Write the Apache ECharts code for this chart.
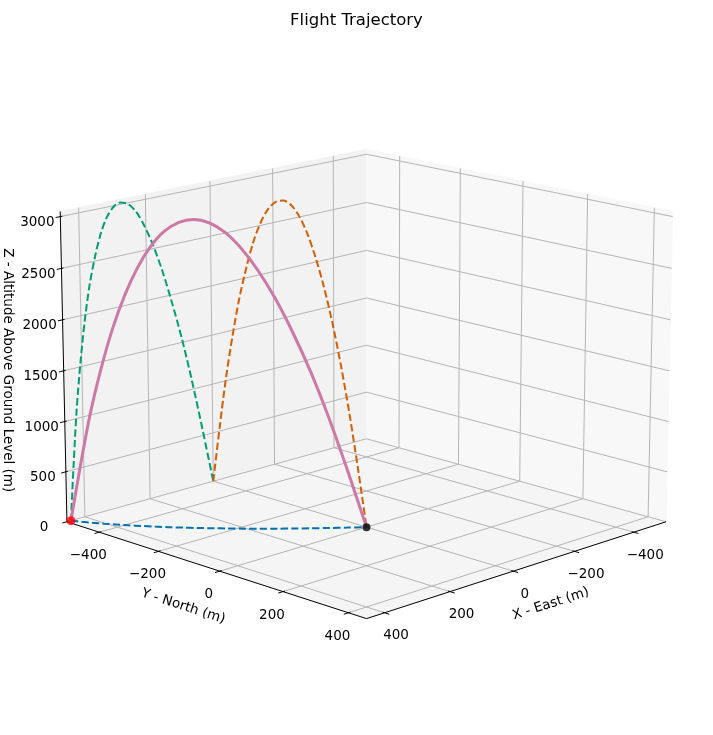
<!DOCTYPE html>
<html>
<head>
<meta charset="utf-8">
<script src="https://cdn.jsdelivr.net/npm/echarts@6/dist/echarts.min.js"></script>
<style>
  html, body { margin: 0; padding: 0; background: #fff; }
  #main { width: 713px; height: 735px; }
</style>
</head>
<body>
<div id="main"></div>
<script>
var myChart = echarts.init(document.getElementById('main'));

// trajectory samples (metres)
var east = [442, 430, 418, 404, 389, 373, 355, 337, 318, 297, 276, 253, 229, 205, 179, 152, 124, 94, 64, 33, 0];
var north = [-512, -488, -465, -441, -417, -392, -368, -343, -318, -292, -267, -241, -215, -189, -163, -136, -109, -82, -55, -28, 0];
var altitude = [0, 573, 1087, 1539, 1932, 2264, 2535, 2746, 2897, 2988, 3018, 2988, 2897, 2746, 2535, 2264, 1932, 1539, 1087, 573, 0];

var xTicks = [-400, -200, 0, 200, 400];
var yTicks = [-400, -200, 0, 200, 400];
var zTicks = [0, 500, 1000, 1500, 2000, 2500, 3000];

var xLim = [-512, 454];
var yLim = [-512, 454];
var zLim = [0, 3050];

// camera, like matplotlib's 3d axes (elev 15, azim 45, perspective)
var view = { elev: 15, azim: 45, dist: 10, scale: 3748, cx: 366.5, cy: 368.3 };
var boxNorm = Math.sqrt(4 * 4 + 4 * 4 + 3 * 3);
var box = [4, 4, 3].map(function (v) { return v * 1.8294640721620434 / boxNorm; });

function project(p) {
  var e = view.elev * Math.PI / 180, a = view.azim * Math.PI / 180;
  var bx = ((p[0] - xLim[0]) / (xLim[1] - xLim[0]) - 0.5) * box[0];
  var by = ((p[1] - yLim[0]) / (yLim[1] - yLim[0]) - 0.5) * box[1];
  var bz = ((p[2] - zLim[0]) / (zLim[1] - zLim[0]) - 0.5) * box[2];
  var w = [Math.cos(e) * Math.cos(a), Math.cos(e) * Math.sin(a), Math.sin(e)];
  var u = [-Math.sin(a), Math.cos(a), 0];
  var v = [-Math.sin(e) * Math.cos(a), -Math.sin(e) * Math.sin(a), Math.cos(e)];
  var depth = view.dist - (w[0] * bx + w[1] * by + w[2] * bz);
  var sx = (u[0] * bx + u[1] * by) / depth;
  var sy = (v[0] * bx + v[1] * by + v[2] * bz) / depth;
  return [view.cx + view.scale * sx, view.cy - view.scale * sy];
}

var trajectory = east.map(function (x, i) { return project([x, north[i], altitude[i]]); });
var groundTrack = east.map(function (x, i) { return project([x, north[i], 0]); });
// x-z profile on the y = start plane, y-z profile on the x = landing plane
var eastProfile = east.map(function (x, i) { return project([x, north[0], altitude[i]]); });
var northProfile = north.map(function (y, i) { return project([east[east.length - 1], y, altitude[i]]); });
var launchPt = [project([east[0], north[0], altitude[0]])];
var landPt = [project([east[east.length - 1], north[north.length - 1], altitude[altitude.length - 1]])];

var FONT = '"DejaVu Sans", sans-serif';
var gridColor = '#b5b5b5';

function fmt(v) { return v < 0 ? '\u2212' + Math.abs(v) : String(v); }

function renderFrame(params, api) {
  var P = function (x, y, z) { return api.coord(project([x, y, z])); };
  var x0 = xLim[0], x1 = xLim[1], y0 = yLim[0], y1 = yLim[1], z0 = zLim[0], z1 = zLim[1];
  var kids = [];
  function poly(pts, color) {
    kids.push({ type: 'polygon', shape: { points: pts }, style: { fill: color, stroke: color, lineWidth: 1 } });
  }
  function line(pts, color, lw) {
    kids.push({ type: 'polyline', shape: { points: pts }, style: { stroke: color, lineWidth: lw, fill: null } });
  }
  function text(str, pos, dx, dy, size, rot) {
    kids.push({
      type: 'text', x: pos[0] + dx, y: pos[1] + dy, rotation: rot || 0,
      style: {
        text: str, fill: '#000', fontSize: size, fontFamily: FONT,
        align: 'center', verticalAlign: 'middle', textAlign: 'center', textVerticalAlign: 'middle'
      }
    });
  }

  // panes
  poly([P(x0, y0, z0), P(x1, y0, z0), P(x1, y0, z1), P(x0, y0, z1)], '#f2f2f2');
  poly([P(x0, y0, z0), P(x0, y1, z0), P(x0, y1, z1), P(x0, y0, z1)], '#f8f8f8');
  poly([P(x0, y0, z0), P(x1, y0, z0), P(x1, y1, z0), P(x0, y1, z0)], '#f5f5f5');

  // grid
  xTicks.forEach(function (t) { line([P(t, y1, z0), P(t, y0, z0), P(t, y0, z1)], gridColor, 1); });
  yTicks.forEach(function (t) { line([P(x1, t, z0), P(x0, t, z0), P(x0, t, z1)], gridColor, 1); });
  zTicks.forEach(function (t) { line([P(x1, y0, t), P(x0, y0, t), P(x0, y1, t)], gridColor, 1); });

  // axis lines
  line([P(x1, y1, z0), P(x0, y1, z0)], '#000', 1);
  line([P(x1, y0, z0), P(x1, y1, z0)], '#000', 1);
  line([P(x1, y0, z0), P(x1, y0, z1)], '#000', 1);

  // tick marks and labels
  var out = 14, inw = 6;
  xTicks.forEach(function (t) {
    line([P(t, y1 - inw, z0), P(t, y1 + out, z0)], '#000', 1);
    text(fmt(t), P(t, y1, z0), 11.5, 23, 13.5);
  });
  yTicks.forEach(function (t) {
    line([P(x1 - inw, t, z0), P(x1 + out, t, z0)], '#000', 1);
    text(fmt(t), P(x1, t, z0), -11, 23.5, 13.5);
  });
  zTicks.forEach(function (t) {
    line([P(x1 - inw, y0, t), P(x1 + out, y0, t)], '#000', 1);
    text(fmt(t), P(x1, y0, t), -23, 6, 13.5);
  });

  // axis titles, turned along their axes
  var xa = P(x1, y1, z0), xb = P(x0, y1, z0);
  var ya = P(x1, y0, z0), yb = P(x1, y1, z0);
  text('X - East (m)', P((x0 + x1) / 2, y1, z0), 28.5, 35.7, 13.5, Math.atan2(xa[1] - xb[1], xb[0] - xa[0]));
  text('Y - North (m)', P(x1, (y0 + y1) / 2, z0), -27.4, 38.2, 13.5, Math.atan2(ya[1] - yb[1], yb[0] - ya[0]));
  text('Z - Altitude Above Ground Level (m)', P(x1, y0, (z0 + z1) / 2), -56, 2, 13.5, -Math.PI / 2);

  return { type: 'group', children: kids };
}

function pathSeries(name, pts, color, width, dashed, z) {
  return {
    name: name, type: 'line', data: pts, symbol: 'none', smooth: 0.3, clip: false, z: z,
    lineStyle: { color: color, width: width, type: dashed ? [7.3, 3.2] : 'solid' }
  };
}

var option = {
  animation: false,
  title: {
    text: 'Flight Trajectory', left: 'center', top: 7,
    textStyle: { fontFamily: FONT, fontSize: 16.5, fontWeight: 'normal', color: '#000' }
  },
  grid: { left: 0, right: 0, top: 0, bottom: 0 },
  xAxis: { type: 'value', min: 0, max: 713, show: false },
  yAxis: { type: 'value', min: 0, max: 735, inverse: true, show: false },
  series: [
    { type: 'custom', renderItem: renderFrame, data: [[0, 0]], z: 1, clip: false, silent: true },
    pathSeries('Ground track', groundTrack, '#0072B2', 2, true, 3),
    pathSeries('East profile', eastProfile, '#009E73', 2, true, 3),
    pathSeries('North profile', northProfile, '#D55E00', 2, true, 3),
    pathSeries('Trajectory', trajectory, '#CC79A7', 3, false, 4),
    { type: 'scatter', data: launchPt, symbolSize: 9, itemStyle: { color: '#ff0000' }, z: 5, clip: false },
    { type: 'scatter', data: landPt, symbolSize: 8, itemStyle: { color: '#000' }, z: 5, clip: false }
  ]
};
myChart.setOption(option);
</script>
</body>
</html>
